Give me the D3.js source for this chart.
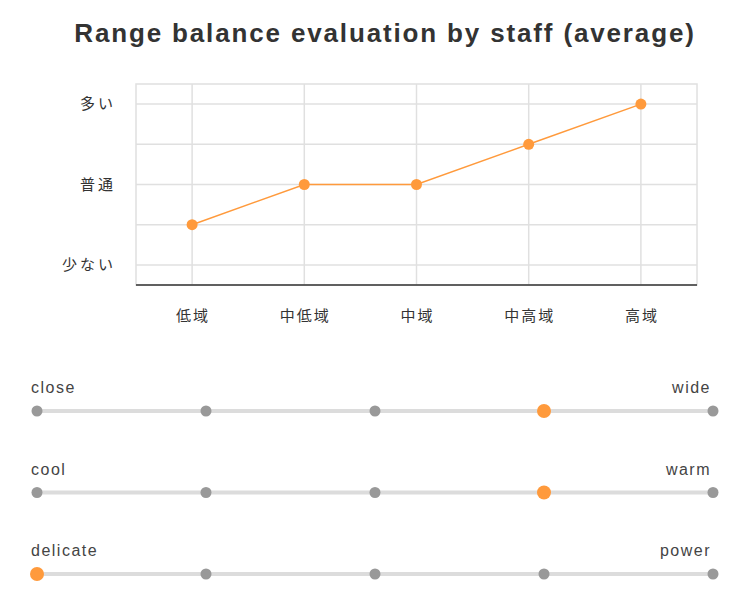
<!DOCTYPE html>
<html><head><meta charset="utf-8">
<script src="https://cdn.jsdelivr.net/npm/d3@7"></script>
<style>
body{margin:0;background:#fff;}
svg{display:block;}
</style></head><body>
<svg id="c" width="743" height="607"></svg>
<script>
const title = "Range balance evaluation by staff (average)";
const categories = ["低域","中低域","中域","中高域","高域"];
const values = [2,3,3,4,5];
const yTickValues = [1,2,3,4,5];
const yTickLabels = {1:"少ない",3:"普通",5:"多い"};
const sliderLeft = ["close","cool","delicate"];
const sliderRight = ["wide","warm","power"];
const sliderValues = [4,4,1];
const sliderSteps = [1,2,3,4,5];

const orange = "#ff9a3c";
const svg = d3.select("#c");

svg.append("text").attr("x",385).attr("y",42).attr("text-anchor","middle")
  .attr("font-family","Liberation Sans, Arial, sans-serif").attr("font-weight","bold")
  .attr("font-size",26).attr("letter-spacing",1.85).attr("fill","#333").text(title);

const L=136,R=697,T=84,B=285;
const x = d3.scaleBand().domain(categories).range([L,R]);
const y = d3.scaleLinear().domain([0.5,5.5]).range([B,T]);
const cx = d => x(d)+x.bandwidth()/2;
const g = svg.append("g");
const jp = "'Noto Sans CJK JP', sans-serif";

g.append("rect").attr("x",L).attr("y",T).attr("width",R-L).attr("height",B-T)
  .attr("fill","none").attr("stroke","#e0e0e0").attr("stroke-width",1.5);
g.selectAll(".hg").data(yTickValues).join("line")
  .attr("x1",L).attr("x2",R).attr("y1",d=>y(d)).attr("y2",d=>y(d))
  .attr("stroke","#e0e0e0").attr("stroke-width",1.5);
g.selectAll(".vg").data(categories).join("line")
  .attr("x1",cx).attr("x2",cx).attr("y1",T).attr("y2",B)
  .attr("stroke","#e0e0e0").attr("stroke-width",1.5);
g.append("line").attr("x1",L).attr("x2",R).attr("y1",B).attr("y2",B)
  .attr("stroke","#333").attr("stroke-width",1.5);

g.selectAll(".yl").data(Object.keys(yTickLabels).map(Number)).join("text")
  .attr("x",116).attr("y",d=>y(d)+5).attr("text-anchor","end")
  .attr("font-family",jp).attr("font-size",15).attr("letter-spacing",3)
  .attr("fill","#333").text(d=>yTickLabels[d]);
g.selectAll(".xl").data(categories).join("text")
  .attr("x",d=>cx(d)+1).attr("y",321).attr("text-anchor","middle")
  .attr("font-family",jp).attr("font-size",15).attr("letter-spacing",2)
  .attr("fill","#333").text(d=>d);

const line = d3.line().x((d,i)=>cx(categories[i])).y(d=>y(d));
g.append("path").datum(values).attr("d",line).attr("fill","none")
  .attr("stroke",orange).attr("stroke-width",1.5);
g.selectAll(".pt").data(values).join("circle")
  .attr("cx",(d,i)=>cx(categories[i])).attr("cy",d=>y(d)).attr("r",5.5)
  .attr("fill",orange);

const sx = d3.scaleLinear().domain([1,5]).range([37,713]);
const rowY = d3.scalePoint().domain(d3.range(3)).range([411,574]);
const en = "Liberation Sans, Arial, sans-serif";
sliderValues.forEach((v,i)=>{
  const yy = rowY(i);
  const s = svg.append("g");
  s.append("text").attr("x",31).attr("y",yy-18).attr("font-family",en)
    .attr("font-size",16).attr("letter-spacing",1.5).attr("fill","#444").text(sliderLeft[i]);
  s.append("text").attr("x",711).attr("y",yy-18).attr("text-anchor","end").attr("font-family",en)
    .attr("font-size",16).attr("letter-spacing",1.5).attr("fill","#444").text(sliderRight[i]);
  s.append("line").attr("x1",sx(1)).attr("x2",sx(5)).attr("y1",yy).attr("y2",yy)
    .attr("stroke","#dcdcdc").attr("stroke-width",4);
  s.selectAll("circle").data(sliderSteps).join("circle")
    .attr("cx",d=>sx(d)).attr("cy",yy).attr("r",d=>d===v?7:5.5)
    .attr("fill",d=>d===v?orange:"#999");
});
</script></body></html>
